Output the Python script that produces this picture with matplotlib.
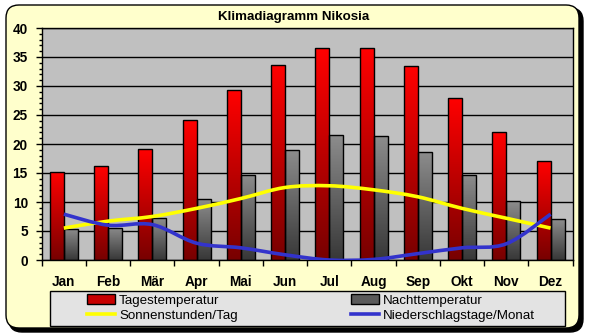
import numpy as np
import matplotlib
matplotlib.use("Agg")
import matplotlib.pyplot as plt
from matplotlib.patches import FancyBboxPatch, Rectangle, Patch, PathPatch
from matplotlib.path import Path
from matplotlib.lines import Line2D
from matplotlib.transforms import Affine2D
from matplotlib.colors import LinearSegmentedColormap

plt.rcParams['font.family'] = ['Liberation Sans', 'DejaVu Sans']

# Daten
monate = ['Jan', 'Feb', 'Mär', 'Apr', 'Mai', 'Jun', 'Jul', 'Aug', 'Sep', 'Okt', 'Nov', 'Dez']
tag = [15.2, 16.2, 19.1, 24.1, 29.3, 33.7, 36.5, 36.5, 33.4, 28.0, 22.0, 17.0]
nacht = [5.3, 5.6, 7.2, 10.5, 14.7, 18.9, 21.5, 21.3, 18.6, 14.6, 10.1, 7.0]
sonne = [5.5, 6.7, 7.5, 8.9, 10.6, 12.5, 12.8, 12.1, 10.9, 8.9, 7.2, 5.5]
regen = [7.9, 6.0, 6.1, 2.9, 2.1, 0.9, 0.0, 0.1, 1.1, 2.1, 2.8, 7.9]

W, H = 589, 336
fig = plt.figure(figsize=(W / 100, H / 100), dpi=100)
fig.patch.set_facecolor('white')

# Pixelkoordinaten (y nach unten)
pix = Affine2D().scale(1 / W, -1 / H).translate(0, 1) + fig.transFigure

# Hintergrundkasten mit Schatten
fig.patches.append(FancyBboxPatch((9, 8), 574, 324, boxstyle="round,pad=0,rounding_size=13",
                                  transform=pix, fc='black', ec='black', zorder=-3))
fig.patches.append(FancyBboxPatch((6, 5), 573, 323, boxstyle="round,pad=0,rounding_size=13",
                                  transform=pix, fc='#FFFFCC', ec='black', lw=1, zorder=-2))
fig.patches.append(Rectangle((50, 291), 515, 35, transform=pix,
                             fc='#E3E3E3', ec='black', lw=1, zorder=-1))

ax = fig.add_axes([41.7 / W, 76 / H, 531 / W, 232 / H])
ax.set_facecolor('#C0C0C0')

x = np.arange(len(monate))
bw = 0.316
b1 = ax.bar(x - bw / 2, tag, bw, color='none', edgecolor='black', lw=1, zorder=3)
b2 = ax.bar(x + bw / 2, nacht, bw, color='none', edgecolor='black', lw=1, zorder=3)

grad = np.linspace(0, 1, 100).reshape(-1, 1)
cm_red = LinearSegmentedColormap.from_list('r', ['#780000', '#FF0000'])
cm_gray = LinearSegmentedColormap.from_list('g', ['#383838', '#8C8C8C'])
for bars, cm in ((b1, cm_red), (b2, cm_gray)):
    for p in bars:
        x0, y0 = p.get_x(), p.get_y()
        im = ax.imshow(grad, extent=(x0, x0 + p.get_width(), y0, y0 + p.get_height()),
                       origin='lower', cmap=cm, aspect='auto', zorder=2.5)
        im.set_clip_path(p)


def smooth_path(xs, ys):
    pts = np.column_stack([xs, ys]).astype(float)
    verts = [pts[0]]
    codes = [Path.MOVETO]
    n = len(pts)
    for i in range(n - 1):
        p0 = pts[max(i - 1, 0)]
        p1 = pts[i]
        p2 = pts[i + 1]
        p3 = pts[min(i + 2, n - 1)]
        verts += [p1 + (p2 - p0) / 6, p2 - (p3 - p1) / 6, p2]
        codes += [Path.CURVE4] * 3
    return Path(verts, codes)


ax.add_patch(PathPatch(smooth_path(x, sonne), fc='none', ec='#FFFF00', lw=2.6, zorder=4, capstyle='butt'))
ax.add_patch(PathPatch(smooth_path(x, regen), fc='none', ec='#3333CC', lw=2.6, zorder=5, capstyle='butt'))

ax.set_xlim(-0.5, 11.5)
ax.set_ylim(0, 40)
ax.set_yticks(np.arange(0, 41, 5))
ax.set_yticks(np.arange(0, 41, 1), minor=True)
ax.yaxis.grid(True, which='major', color='black', lw=1, zorder=1)
ax.set_axisbelow(True)

ax.set_xticks(np.arange(-0.5, 12, 1))
ax.set_xticklabels([])
ax.set_xticks(x, minor=True)
ax.set_xticklabels(monate, minor=True, fontsize=9.8, fontweight='bold')
ax.tick_params(axis='x', which='major', direction='out', length=4, width=1, color='black')
ax.tick_params(axis='x', which='minor', length=0, pad=11)
ax.tick_params(axis='y', which='major', direction='out', length=4, width=1, labelsize=9.8, pad=6)
ax.tick_params(axis='y', which='minor', direction='out', length=2.5, width=1)
for t in ax.get_yticklabels():
    t.set_fontweight('bold')
for s in ax.spines.values():
    s.set_color('black')
    s.set_linewidth(1)

fig.text(293.5 / W, 1 - 17 / H, 'Klimadiagramm Nikosia', ha='center', va='center',
         fontsize=9.6, fontweight='bold')

handles = [Patch(fc='#C80000', ec='black', lw=1),
           Line2D([], [], color='#FFFF00', lw=2.6),
           Patch(fc='#5A5A5A', ec='black', lw=1),
           Line2D([], [], color='#3333CC', lw=2.6)]
labels = ['Tagestemperatur', 'Sonnenstunden/Tag', 'Nachttemperatur', 'Niederschlagstage/Monat']
leg = fig.legend(handles, labels, ncol=2, loc='center', bbox_to_anchor=(311 / W, 1 - 308 / H),
                 frameon=False, fontsize=9.6, handlelength=2.1, handleheight=0.7,
                 handletextpad=0.3, columnspacing=8.5, labelspacing=0.2,
                 borderpad=0, borderaxespad=0)
leg.set_zorder(10)

fig.savefig('out.png', dpi=100)
